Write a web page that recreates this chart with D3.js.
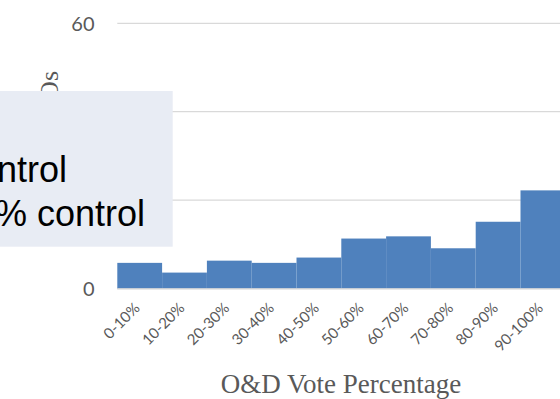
<!DOCTYPE html>
<html><head><meta charset="utf-8">
<script src="https://cdn.jsdelivr.net/npm/d3@7"></script>
<style>html,body{margin:0;padding:0;background:#fff;overflow:hidden}</style>
</head><body>
<svg id="c" width="560" height="399"></svg>
<script>
const categories = ["0-10%","10-20%","20-30%","30-40%","40-50%","50-60%","60-70%","70-80%","80-90%","90-100%"];
const values = [5.8, 3.6, 6.3, 5.8, 7.0, 11.3, 11.8, 9.1, 15.1, 22.2];
const yTicks = [0, 20, 40, 60];
const yTickLabels = [0, 60];   // 20 and 40 are hidden behind the note box
const xTitle = "O&D Vote Percentage";
const yTitle = "Number of IPOs";
const noteLines = ["Founder control", "More than 50% control"];

const svg = d3.select("#c");
const x = d3.scaleBand().domain(categories).range([117.3, 565.3]).padding(0);
const y = d3.scaleLinear().domain([0, 60]).range([288.5, 23.3]);

// gridlines
svg.append("g").selectAll("line").data(yTicks).join("line")
  .attr("x1", 117.3).attr("x2", 600)
  .attr("y1", d => y(d)).attr("y2", d => y(d))
  .attr("stroke", "#d9d9d9").attr("stroke-width", 1.3);

// y tick labels
svg.append("g").selectAll("text").data(yTickLabels).join("text")
  .attr("x", 94.5).attr("y", d => y(d)).attr("dy", "0.36em")
  .attr("text-anchor", "end")
  .attr("font-family", "Lato, 'Open Sans', sans-serif").attr("font-size", 20)
  .attr("fill", "#595959").text(d => d);

// bars
svg.append("g").selectAll("rect").data(values).join("rect")
  .attr("x", (d, i) => x(categories[i]))
  .attr("width", x.bandwidth())
  .attr("y", d => y(d))
  .attr("height", d => y(0) - y(d))
  .attr("fill", "#4f81bd");

// axis baseline
svg.append("line").attr("x1", 117.3).attr("x2", 600)
  .attr("y1", y(0) + 0.3).attr("y2", y(0) + 0.3)
  .attr("stroke", "#d9d9d9").attr("stroke-width", 1.3);

// x tick labels
svg.append("g").selectAll("text").data(categories).join("text")
  .attr("transform", d => `translate(${x(d) + x.bandwidth() / 2 + 1},${309}) rotate(-45)`)
  .attr("text-anchor", "end")
  .attr("font-family", "Lato, 'Open Sans', sans-serif").attr("font-size", 15)
  .attr("fill", "#595959").text(d => d);

// x title
svg.append("text").attr("x", 341).attr("y", 393)
  .attr("text-anchor", "middle")
  .attr("font-family", "'Liberation Serif', 'Times New Roman', serif").attr("font-size", 27)
  .attr("fill", "#595959").text(xTitle);

// y title
svg.append("text").attr("transform", "translate(58,71) rotate(-90)")
  .attr("text-anchor", "end")
  .attr("font-family", "'Liberation Serif', 'Times New Roman', serif").attr("font-size", 26)
  .attr("fill", "#595959").text(yTitle);

// overlay note box
svg.append("rect").attr("x", -20).attr("y", 91).attr("width", 192.7).attr("height", 155.7)
  .attr("fill", "#e8ecf4");
const noteEnds = [67, 145];
const noteBase = [181.5, 225.5];
svg.append("g").selectAll("text").data(noteLines).join("text")
  .attr("x", (d, i) => noteEnds[i]).attr("y", (d, i) => noteBase[i])
  .attr("text-anchor", "end")
  .attr("font-family", "'Liberation Sans', Arial, sans-serif").attr("font-size", 36)
  .attr("fill", "#000").text(d => d);
</script>
</body></html>
